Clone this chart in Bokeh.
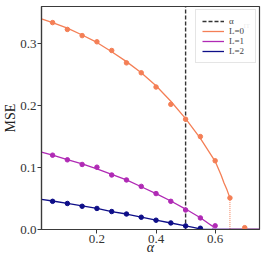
from bokeh.plotting import figure
from bokeh.models import Range1d, FixedTicker, Legend, LegendItem, Label
from bokeh.embed import file_html
from bokeh.resources import INLINE

# ---- data ----
alpha_it = [0.5, 0.5]
alpha_it_y = [0.0, 1.0]

# smooth theory curves
c0_x = [0.0125, 0.05, 0.1, 0.15, 0.2, 0.25, 0.3, 0.35, 0.4, 0.45, 0.5, 0.55, 0.6, 0.62, 0.63, 0.64, 0.65]
c0_y = [0.340, 0.334, 0.325, 0.314, 0.302, 0.287, 0.271, 0.253, 0.232, 0.207, 0.179, 0.147, 0.110, 0.088, 0.075, 0.064, 0.051]
c0_drop_x = [0.65, 0.65]
c0_drop_y = [0.051, 0.0]
c0_zero_x = [0.65, 0.75]
c0_zero_y = [0.0, 0.0]

c1_x = [0.0125, 0.05, 0.1, 0.15, 0.2, 0.25, 0.3, 0.35, 0.4, 0.45, 0.5, 0.55, 0.58, 0.592]
c1_y = [0.125, 0.120, 0.113, 0.106, 0.098, 0.089, 0.080, 0.069, 0.058, 0.046, 0.033, 0.019, 0.009, 0.005]
c1_drop_x = [0.592, 0.592]
c1_drop_y = [0.005, 0.0]
c1_zero_x = [0.592, 0.75]
c1_zero_y = [0.0, 0.0]

c2_x = [0.0125, 0.05, 0.1, 0.15, 0.2, 0.25, 0.3, 0.35, 0.4, 0.45, 0.5, 0.53, 0.55, 0.56, 0.75]
c2_y = [0.0487, 0.046, 0.042, 0.038, 0.034, 0.029, 0.025, 0.020, 0.015, 0.0105, 0.006, 0.003, 0.0008, 0.0, 0.0]

# simulation points
p0_x = [0.05, 0.1, 0.15, 0.2, 0.25, 0.3, 0.35, 0.4, 0.45, 0.5, 0.55, 0.6, 0.65, 0.7]
p0_y = [0.334, 0.323, 0.313, 0.303, 0.289, 0.269, 0.253, 0.230, 0.202, 0.178, 0.150, 0.111, 0.051, 0.003]
p1_x = [0.05, 0.1, 0.15, 0.2, 0.25, 0.3, 0.35, 0.4, 0.45, 0.5, 0.55, 0.6]
p1_y = [0.120, 0.1125, 0.105, 0.1006, 0.088, 0.080, 0.0696, 0.058, 0.0455, 0.0315, 0.0187, 0.006]
p2_x = [0.05, 0.1, 0.15, 0.2, 0.25, 0.3, 0.35, 0.4, 0.45, 0.5, 0.55]
p2_y = [0.0455, 0.042, 0.0375, 0.034, 0.029, 0.025, 0.0198, 0.015, 0.0106, 0.0058, 0.002]

x_ticks = [0.2, 0.4, 0.6]
x_tick_labels = ["0.2", "0.4", "0.6"]
y_ticks = [0.0, 0.1, 0.2, 0.3]
y_tick_labels = ["0.0", "0.1", "0.2", "0.3"]

legend_labels = ["α", "L=0", "L=1", "L=2"]
legend_sub = "IT"
colors = ["#F47F56", "#B02AB5", "#0E0E88"]

FONT = "Liberation Serif"
AX = "#3a3a3a"

p = figure(width=263, height=262, output_backend="svg", toolbar_location=None,
           x_range=Range1d(0.0125, 0.75), y_range=Range1d(0.0, 0.36),
           min_border_left=38, min_border_right=4, min_border_top=6, min_border_bottom=33)
p.background_fill_color = "white"
p.border_fill_color = "white"
p.grid.visible = False
p.outline_line_color = AX
p.outline_line_width = 1.2

for ax in (p.xaxis[0], p.yaxis[0]):
    ax.axis_line_color = AX
    ax.axis_line_width = 1.2
    ax.major_tick_line_color = AX
    ax.major_tick_in = 0
    ax.major_tick_out = 4
    ax.minor_tick_line_color = None
    ax.major_label_text_font = FONT
    ax.major_label_text_font_size = "13px"
    ax.major_label_text_color = "#333333"
    ax.axis_label_text_font = FONT
    ax.axis_label_text_font_size = "14px"
    ax.axis_label_text_font_style = "normal"
    ax.axis_label_text_color = "#222222"
    ax.major_label_standoff = 1

p.yaxis[0].axis_label_standoff = -1
p.xaxis[0].axis_label_standoff = -6

p.xaxis[0].ticker = FixedTicker(ticks=x_ticks)
p.xaxis[0].major_label_overrides = dict(zip(x_ticks, x_tick_labels))
p.yaxis[0].ticker = FixedTicker(ticks=y_ticks)
p.yaxis[0].major_label_overrides = dict(zip(y_ticks, y_tick_labels))
p.xaxis[0].axis_label = "α"
p.xaxis[0].axis_label_text_font_style = "italic"
p.yaxis[0].axis_label = "MSE"

lw = 1.3
r_it = p.line(alpha_it, alpha_it_y, line_color="#333333", line_width=1.4, line_dash="4 2")

r0 = p.line(c0_x, c0_y, line_color=colors[0], line_width=lw)
p.line(c0_drop_x, c0_drop_y, line_color=colors[0], line_width=1, line_dash="1 1")
p.line(c0_zero_x, c0_zero_y, line_color=colors[0], line_width=lw)
r1 = p.line(c1_x, c1_y, line_color=colors[1], line_width=lw)
p.line(c1_drop_x, c1_drop_y, line_color=colors[1], line_width=1, line_dash="1 1")
p.line(c1_zero_x, c1_zero_y, line_color=colors[1], line_width=lw)
r2 = p.line(c2_x, c2_y, line_color=colors[2], line_width=lw)

p.scatter(p0_x, p0_y, size=4.5, color=colors[0])
p.scatter(p1_x, p1_y, size=4.5, color=colors[1])
p.scatter(p2_x, p2_y, size=4.5, color=colors[2])

legend = Legend(items=[LegendItem(label=legend_labels[0], renderers=[r_it]),
                       LegendItem(label=legend_labels[1], renderers=[r0]),
                       LegendItem(label=legend_labels[2], renderers=[r1]),
                       LegendItem(label=legend_labels[3], renderers=[r2])],
                location="top_right")
legend.label_text_font = FONT
legend.label_text_font_size = "9px"
legend.label_height = 10
legend.glyph_height = 10
legend.glyph_width = 22
legend.label_standoff = 5
legend.padding = 6
legend.spacing = 0
legend.margin = 3
legend.border_line_color = "#cccccc"
legend.border_line_width = 1
legend.background_fill_alpha = 0.9
p.add_layout(legend)

# subscript of the alpha_IT legend entry (screen units relative to the frame)
p.add_layout(Label(x=202, y=204, x_units="screen", y_units="screen", text=legend_sub,
                   text_font=FONT, text_font_size="7px", text_color="#222222",
                   text_baseline="alphabetic"))

open("out.html", "w").write(file_html(p, INLINE))
